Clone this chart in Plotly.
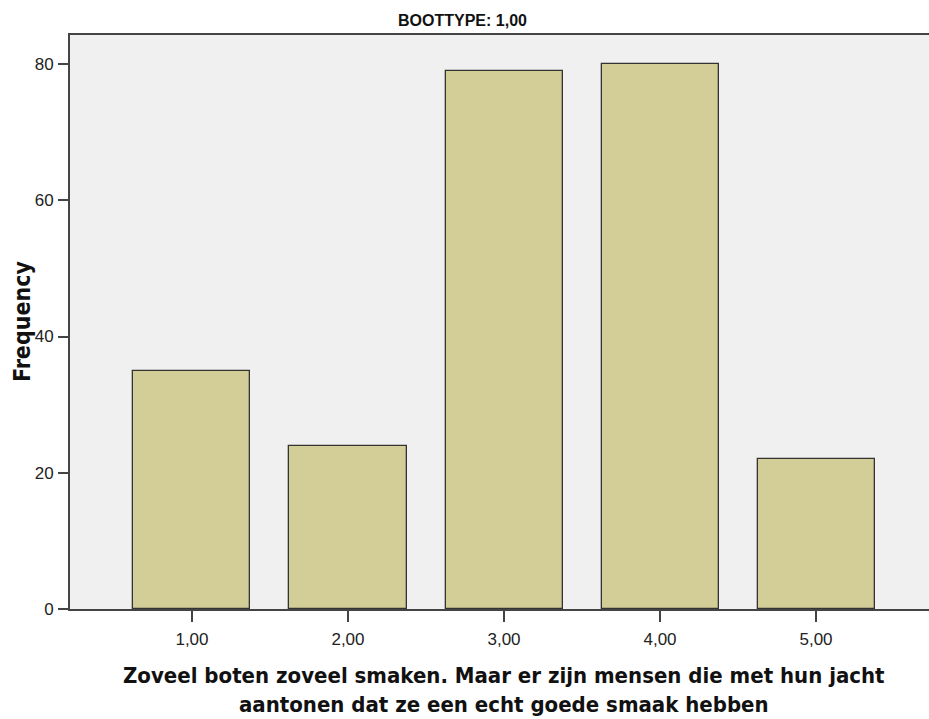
import plotly.graph_objects as go

categories = ["1,00", "2,00", "3,00", "4,00", "5,00"]
frequency = [35, 24, 79, 80, 22]
y_ticks = [0, 20, 40, 60, 80]

chart_title = "BOOTTYPE: 1,00"
x_title = "Zoveel boten zoveel smaken. Maar er zijn mensen die met hun jacht<br>aantonen dat ze een echt goede smaak hebben"
y_title = "Frequency"

TICK_FONT = "Liberation Sans, Arial, sans-serif"
TITLE_FONT = "DejaVu Sans Condensed, DejaVu Sans, Verdana, sans-serif"

fig = go.Figure()
fig.add_trace(go.Bar(
    x=categories,
    y=frequency,
    width=0.75,
    marker=dict(color="#D3CE97", line=dict(color="#333333", width=1.3)),
    hoverinfo="x+y",
))

fig.update_layout(
    width=933,
    height=719,
    margin=dict(l=70, r=0, t=35, b=110, autoexpand=False),
    paper_bgcolor="white",
    plot_bgcolor="#F0F0F0",
    showlegend=False,
    bargap=0,
    xaxis=dict(
        type="category",
        range=[-0.782, 4.750],
        showgrid=False,
        zeroline=False,
        showline=True,
        mirror=True,
        linecolor="#444444",
        linewidth=2,
        ticks="outside",
        ticklen=11,
        tickwidth=2,
        tickcolor="#444444",
        tickfont=dict(family=TICK_FONT, size=17, color="#222222"),
        ticklabelstandoff=3,
    ),
    yaxis=dict(
        range=[0, 84.26],
        tickvals=y_ticks,
        showgrid=False,
        zeroline=False,
        showline=True,
        linecolor="#444444",
        linewidth=2,
        ticks="outside",
        ticklen=10,
        tickwidth=2,
        tickcolor="#444444",
        tickfont=dict(family=TICK_FONT, size=17, color="#222222"),
        ticklabelstandoff=1,
    ),
    annotations=[
        dict(text="<b>" + chart_title + "</b>", xref="paper", yref="paper",
             x=0.455, y=1.0253, xanchor="center", yanchor="middle", showarrow=False,
             font=dict(family=TICK_FONT, size=16, color="#111111")),
        dict(text="<b>" + x_title + "</b>", xref="paper", yref="paper",
             x=0.503, y=-0.09, xanchor="center", yanchor="top", showarrow=False,
             align="center",
             font=dict(family=TITLE_FONT, size=22, color="#111111")),
        dict(text="<b>" + y_title + "</b>", xref="paper", yref="paper",
             x=-0.0556, y=0.5, xanchor="center", yanchor="middle", showarrow=False,
             textangle=-90,
             font=dict(family=TITLE_FONT, size=23, color="#111111")),
    ],
)

fig.write_html(
    "out.html",
    config={"displayModeBar": False},
    post_script=(
        "document.documentElement.style.overflow='hidden';"
        "document.body.style.overflow='hidden';"
        "document.body.style.margin='0';document.body.style.padding='0';"
    ),
)
